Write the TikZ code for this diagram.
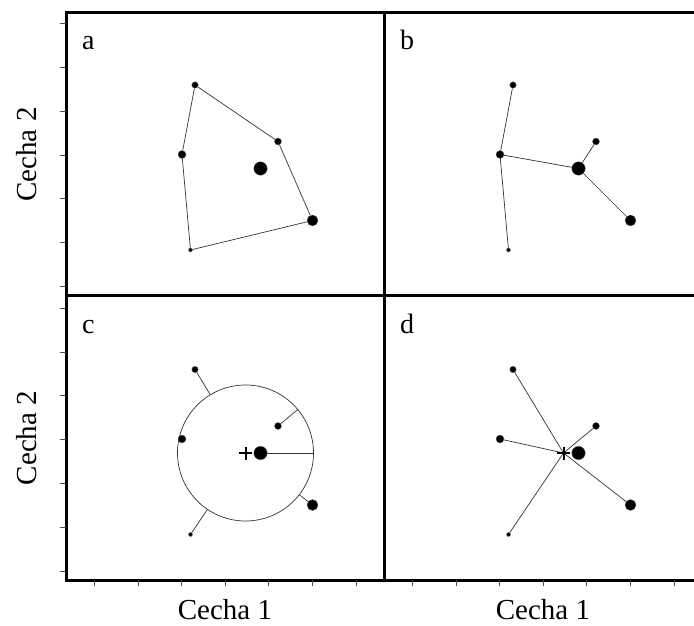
\documentclass[tikz,border=0pt]{standalone}
\usepackage{fontspec}
\setmainfont{Liberation Serif}
\usetikzlibrary{calc,backgrounds}
\newcommand\putpoints[1]{%
  \node[dot=6.5pt] (#1t) at (195,85) {};
  \node[dot=7pt]   (#1u) at (278,141.5) {};
  \node[dot=8pt]   (#1l) at (182,154.5) {};
  \node[dot=13.5pt](#1c) at (260.5,168.5) {};
  \node[dot=11pt]  (#1r) at (312.5,220.5) {};
  \node[dot=4pt]   (#1b) at (190.5,250) {};
}
\newcommand\putplus[1]{%
  \draw[plusmark] ($(#1)+(-6.5,0)$) -- ++(13,0) ($(#1)+(0,-6.5)$) -- ++(0,13);
}
\begin{document}
\begin{tikzpicture}[x=1pt,y=-1pt,
  frame/.style={line width=3pt},
  tickmark/.style={line width=0.6pt, draw=black!70},
  link/.style={line width=0.7pt, draw=black!80},
  plusmark/.style={line width=2pt, draw=black},
  dot/.style={circle, fill=black, draw=black!60, line width=0.3pt, inner sep=0pt, minimum size=#1},
  panellabel/.style={anchor=base west, font=\fontsize{28}{28}\selectfont, inner sep=0pt},
  axislabel/.style={font=\fontsize{29}{29}\selectfont, inner sep=0pt}]
\useasboundingbox (0,0) rectangle (694,626);
\clip (0,0) rectangle (694,626);

% frames
\draw[frame] (66,13) rectangle (702,580);
\draw[frame] (384,13) -- (384,580);
\draw[frame] (66,295.5) -- (702,295.5);

% ticks
\foreach \k in {0,...,6} {
  \draw[tickmark] (66,23.5+43.8*\k) -- ++(-6,0);
  \draw[tickmark] (66,308+43.8*\k) -- ++(-6,0);
  \draw[tickmark] (94.3+43.6*\k,580) -- ++(0,6);
  \draw[tickmark] (412.3+43.6*\k,580) -- ++(0,6);
}

% axis labels
\node[axislabel, rotate=90] (ylab1) at (26.5,154.5) {Cecha 2};
\node[axislabel, rotate=90] (ylab2) at (26.5,438) {Cecha 2};
\node[axislabel, anchor=base] (xlab1) at (225,619) {Cecha 1};
\node[axislabel, anchor=base] (xlab2) at (543,619) {Cecha 1};

% panel labels
\node[panellabel] (la) at (82,50) {a};
\node[panellabel] (lb) at (400,50) {b};
\node[panellabel] (lc) at (82,333) {c};
\node[panellabel] (ld) at (400,333) {d};

% panel a: convex hull
\begin{scope}
  \putpoints{a}
  \begin{pgfonlayer}{background}
    \draw[link] (at) -- (au) -- (ar) -- (ab) -- (al) -- (at);
  \end{pgfonlayer}
\end{scope}

% panel b: spanning tree
\begin{scope}[shift={(318,0)}]
  \putpoints{b}
  \begin{pgfonlayer}{background}
    \draw[link] (bt) -- (bl) -- (bb);
    \draw[link] (bl) -- (bc);
    \draw[link] (bc) -- (bu);
    \draw[link] (bc) -- (br);
  \end{pgfonlayer}
\end{scope}

% panel c: circle around centroid
\begin{scope}[shift={(0,284.5)}]
  \putpoints{c}
  \coordinate (cm) at (245.5,168.5);
  \begin{pgfonlayer}{background}
    \node[circle, draw=black!80, line width=0.7pt, inner sep=0pt, minimum size=136pt] (circ) at (cm) {};
    \draw[link] (ct) -- (circ);
    \draw[link] (cu) -- (circ);
    \draw[link] (cc) -- (circ);
    \draw[link] (cr) -- (circ);
    \draw[link] (cb) -- (circ);
  \end{pgfonlayer}
  \putplus{cm}
\end{scope}

% panel d: star to centroid
\begin{scope}[shift={(318,284.5)}]
  \putpoints{d}
  \coordinate (dm) at (245.5,168.5);
  \begin{pgfonlayer}{background}
    \draw[link] (dt) -- (dm);
    \draw[link] (du) -- (dm);
    \draw[link] (dl) -- (dm);
    \draw[link] (dr) -- (dm);
    \draw[link] (db) -- (dm);
  \end{pgfonlayer}
  \putplus{dm}
\end{scope}
\end{tikzpicture}
\end{document}
